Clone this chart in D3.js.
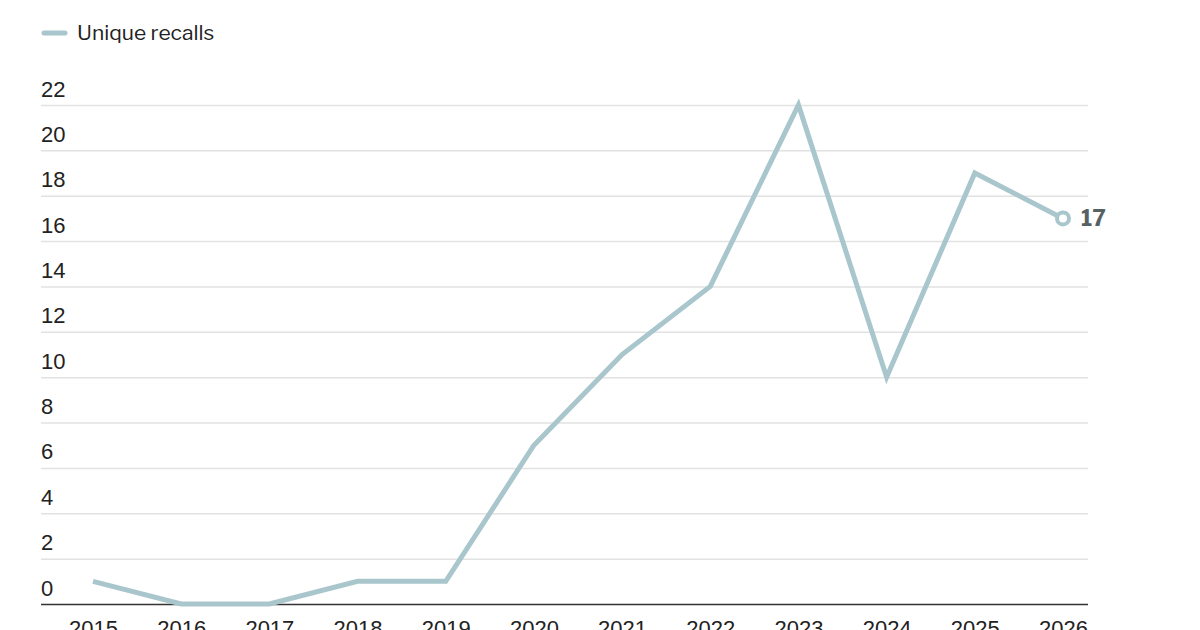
<!DOCTYPE html>
<html><head><meta charset="utf-8">
<script src="https://cdn.jsdelivr.net/npm/d3@7"></script>
<style>
html,body{margin:0;padding:0;background:#fff;overflow:hidden}
svg{display:block;font-family:"Libre Franklin",Roboto,"Noto Sans",sans-serif}
</style></head>
<body><svg id="c" width="1200" height="630"></svg>
<script>
const years = [2015,2016,2017,2018,2019,2020,2021,2022,2023,2024,2025,2026];
const recalls = [1,0,0,1,1,7,11,14,22,10,19,17];
const yTicks = [0,2,4,6,8,10,12,14,16,18,20,22];
const seriesName = "Unique recalls";
const lineColor = "#a9c6cc";

(function(){
const svg = d3.select("#c");
const mLeft = 41, mRight = 1088, mTop = 105, mBottom = 604;
const x = d3.scaleLinear().domain([2015,2026]).range([93,1063]);
const y = d3.scaleLinear().domain([0,22]).range([mBottom, mTop]);

// gridlines + y labels
const yAxis = d3.axisLeft(y).tickValues(yTicks).tickSize(0).tickFormat(d3.format("d"));
const gy = svg.append("g").attr("transform",`translate(${mLeft},0)`).call(yAxis);
gy.select(".domain").remove();
gy.selectAll(".tick line").attr("x2", mRight-mLeft).attr("stroke","#e2e2e2").attr("stroke-width",1.5);
gy.selectAll(".tick text").attr("x",0).attr("dy",-9).attr("text-anchor","start")
  .attr("font-size",22).attr("fill","#222").attr("font-family","inherit");
gy.selectAll(".tick").filter(d=>d===0).select("line").attr("stroke","#333").attr("stroke-width",1.5);

// x labels
const xAxis = d3.axisBottom(x).tickValues(years).tickSize(0).tickFormat(d3.format("d"));
const gx = svg.append("g").attr("transform",`translate(0,${mBottom})`).call(xAxis);
gx.select(".domain").remove();
gx.selectAll(".tick text").attr("y",16).attr("dy","0.71em").attr("font-size",22)
  .attr("fill","#222").attr("font-family","inherit");

// line
const line = d3.line().x((d,i)=>x(years[i])).y(d=>y(d));
svg.append("path").datum(recalls).attr("d",line).attr("fill","none")
  .attr("stroke",lineColor).attr("stroke-width",5).attr("stroke-linejoin","miter");

// end marker
const li = recalls.length-1;
svg.append("circle").attr("cx",x(years[li])).attr("cy",y(recalls[li])).attr("r",6)
  .attr("fill","#fff").attr("stroke",lineColor).attr("stroke-width",4);
svg.append("text").attr("x",x(years[li])+18).attr("y",y(recalls[li])).attr("dy","0.35em")
  .attr("font-size",22).attr("font-weight",700).attr("fill","#566165").text(recalls[li]);

// legend
svg.append("line").attr("x1",44).attr("x2",65).attr("y1",33).attr("y2",33)
  .attr("stroke",lineColor).attr("stroke-width",5).attr("stroke-linecap","round");
svg.append("text").attr("x",77).attr("y",33).attr("dy","0.35em").attr("font-size",21)
  .attr("fill","#222").text(seriesName);
})();
</script></body></html>
